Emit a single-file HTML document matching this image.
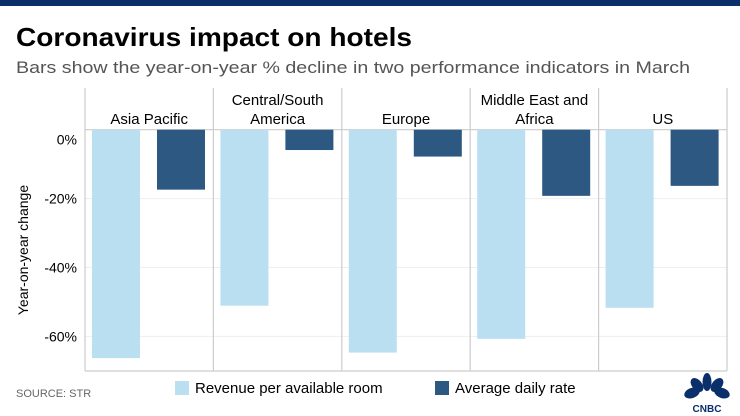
<!DOCTYPE html>
<html><head><meta charset="utf-8"><style>
body{margin:0;background:#fff;}
svg{display:block;font-family:"Liberation Sans",Arial,sans-serif;}
</style></head><body>
<svg id="chart" width="740" height="416" viewBox="0 0 740 416">
<rect x="0" y="0" width="740" height="6" fill="#0b2f6a"/>
<text x="16" y="46" font-size="26" font-weight="bold" fill="#000" textLength="396" lengthAdjust="spacingAndGlyphs">Coronavirus impact on hotels</text>
<text x="16" y="73" font-size="17" fill="#555" textLength="674" lengthAdjust="spacingAndGlyphs">Bars show the year-on-year % decline in two performance indicators in March</text>
<g id="grid"></g>
<g id="bars"></g>
<g id="labels"></g>
<text transform="translate(28,250) rotate(-90)" text-anchor="middle" font-size="14" fill="#000">Year-on-year change</text>
<text x="16" y="397" font-size="11" fill="#666">SOURCE: STR</text>
<rect x="175" y="381" width="14" height="14" fill="#badff1"/>
<text x="195" y="393" font-size="15" fill="#000">Revenue per available room</text>
<rect x="435" y="381" width="14" height="14" fill="#2c5882"/>
<text x="455" y="393" font-size="15" fill="#000">Average daily rate</text>
<g>
<g fill="#0b2f6a" transform="translate(707,401)">
<ellipse cx="-15" cy="-8" rx="8" ry="5" transform="rotate(-20 -15 -8)"/>
<ellipse cx="-10" cy="-16" rx="5" ry="8" transform="rotate(-40 -10 -16)"/>
<ellipse cx="0" cy="-19" rx="4.5" ry="9"/>
<ellipse cx="10" cy="-16" rx="5" ry="8" transform="rotate(40 10 -16)"/>
<ellipse cx="15" cy="-8" rx="8" ry="5" transform="rotate(20 15 -8)"/>
</g>
<text x="707" y="412" font-size="10" font-weight="bold" fill="#0b2f6a" text-anchor="middle">CNBC</text>
</g>
</svg>
<script>
const regions = ["Asia Pacific", "Central/South America", "Europe", "Middle East and Africa", "US"];
const regionLines = [["Asia Pacific"], ["Central/South", "America"], ["Europe"], ["Middle East and", "Africa"], ["US"]];
const revpar = [-66.3, -51.1, -64.7, -60.7, -51.7];
const adr = [-17.4, -5.9, -7.8, -19.2, -16.3];
const yTicks = [0, -20, -40, -60];
const yTickLabels = ["0%", "-20%", "-40%", "-60%"];

const NS = "http://www.w3.org/2000/svg";
const plotLeft = 85, plotRight = 727, plotTop = 88, plotBottom = 371, y0 = 129.7, pxPer = 68.9/20;
const panelW = (plotRight - plotLeft) / regions.length;
const yScale = v => y0 - v * pxPer;
function mk(tag, attrs, parent){const e=document.createElementNS(NS,tag);for(const k in attrs)e.setAttribute(k,attrs[k]);parent.appendChild(e);return e;}
const grid = document.getElementById('grid'), bars = document.getElementById('bars'), labels = document.getElementById('labels');

yTicks.forEach((t,i)=>{
  if(t!==0){const g=mk('line',{x1:plotLeft,x2:plotRight,y1:yScale(t),y2:yScale(t),stroke:'#eee','stroke-width':1},grid);
  
  }
  const off = t===0 ? 15 : 5;
  const tx=mk('text',{x:77,y:yScale(t)+off,'text-anchor':'end','font-size':14,fill:'#000'},labels);
  tx.textContent=yTickLabels[i];
  
  
});
const zl=mk('line',{x1:plotLeft,x2:plotRight,y1:yScale(0),y2:yScale(0),stroke:'#ccc','stroke-width':1.2},grid);


const bl=mk('line',{x1:plotLeft,x2:plotRight,y1:plotBottom,y2:plotBottom,stroke:'#ccc','stroke-width':1.2},grid);


for(let i=0;i<=regions.length;i++){
  const x=plotLeft+i*panelW;
  const d=mk('line',{x1:x,x2:x,y1:plotTop,y2:plotBottom,stroke:'#ccc','stroke-width':1.2},grid);
  
  
}
regions.forEach((r,i)=>{
  const px=plotLeft+i*panelW;
  const b1=mk('rect',{x:px+7,y:yScale(0),width:48,height:yScale(revpar[i])-yScale(0),fill:'#badff1'},bars);
  
  
  const b2=mk('rect',{x:px+72,y:yScale(0),width:48,height:yScale(adr[i])-yScale(0),fill:'#2c5882'},bars);
  
  
  const lines=regionLines[i];
  lines.forEach((ln,j)=>{
    const t=mk('text',{x:px+panelW/2,y:124-(lines.length-1-j)*19,'text-anchor':'middle','font-size':15,fill:'#000'},labels);
    t.textContent=ln;
    
    
  });
});
</script>
</body></html>
